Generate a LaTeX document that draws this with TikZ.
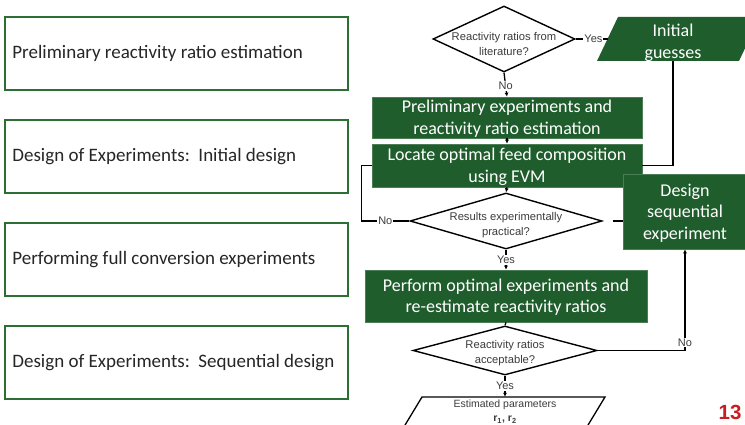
\documentclass[tikz,border=0pt]{standalone}
\usepackage{fontspec}
\setmainfont{Carlito}
\newfontfamily\arialfont{Liberation Sans}
\usetikzlibrary{shapes.geometric,arrows.meta}
\definecolor{boxgreen}{RGB}{31,94,44}
\definecolor{framegreen}{RGB}{45,110,52}
\definecolor{numred}{RGB}{200,30,35}
\definecolor{txtgray}{RGB}{38,38,38}
\definecolor{dgray}{RGB}{60,60,60}
\tikzset{
  stagebox/.style={draw=framegreen, line width=1.6pt, minimum width=343, minimum height=73,
    inner sep=0},
  stagetext/.style={anchor=west, inner sep=0, text=txtgray, font=\fontsize{19}{22}\selectfont},
  greenbox/.style={fill=boxgreen, draw=boxgreen!80!white, line width=0.6pt, inner sep=0,
    text depth=0pt, align=center, text=white, font=\fontsize{18}{21.5}\selectfont},
  decision/.style={diamond, draw=black, line width=1.4pt, fill=white, inner sep=0},
  dtext/.style={align=center, text=dgray, inner sep=0, font=\arialfont\fontsize{11.2}{15}\selectfont},
  lbl/.style={fill=white, inner sep=1, text=dgray, font=\arialfont\fontsize{11}{13}\selectfont},
  conn/.style={line width=1.3pt, draw=black},
  arr/.style={conn, -{Latex[length=4,width=4]}},
}
\begin{document}
\begin{tikzpicture}[x=1pt,y=-1pt]
  \clip (0,0) rectangle (745,425);
  \fill[white] (0,0) rectangle (745,425);

  % stages on the left
  \node[stagebox] (s1) at (176.5,53.5) {};
  \node[stagetext] (s1t) at ([xshift=8]s1.west) {Preliminary reactivity ratio estimation};
  \node[stagebox] (s2) at (176.5,156.5) {};
  \node[stagetext] (s2t) at ([xshift=8]s2.west) {Design of Experiments:\ \ Initial design};
  \node[stagebox] (s3) at (176.5,259.5) {};
  \node[stagetext] (s3t) at ([xshift=8]s3.west) {Performing full conversion experiments};
  \node[stagebox] (s4) at (176.5,362.5) {};
  \node[stagetext] (s4t) at ([xshift=8]s4.west) {Design of Experiments:\ \ Sequential design};

  % flowchart
  \node[decision, minimum width=142, minimum height=66] (d1) at (504,39) {};
  \node[dtext] at (504,44) {Reactivity ratios from\\literature?};

  \fill[boxgreen] (597,61) -- (618,17) -- (760,17) -- (739,61) -- cycle;
  \node[inner sep=0, minimum height=37, minimum width=90, align=center, text=white,
        font=\fontsize{18}{22}\selectfont] (ig) at (673,42.5) {Initial\\guesses};
  \coordinate (igL) at (608,39);

  \node[greenbox, minimum width=270, minimum height=41] (pre) at (507,117.5)
    {Preliminary experiments and\\reactivity ratio estimation};
  \node[greenbox, minimum width=270, minimum height=43] (loc) at (507,165.5)
    {Locate optimal feed composition\\using EVM};
  \node[greenbox, minimum width=124, minimum height=75] (dseq) at (685,211.5)
    {Design\\sequential\\experiment};

  \node[decision, minimum width=192, minimum height=56] (d2) at (506,221) {};
  \node[dtext] at (506,225) {Results experimentally\\practical?};

  \node[greenbox, minimum width=282, minimum height=52] (perf) at (506,296)
    {Perform optimal experiments and\\re-estimate reactivity ratios};

  \node[decision, minimum width=184, minimum height=49] (d3) at (505,350.5) {};
  \node[dtext] at (505,353) {Reactivity ratios\\acceptable?};

  \draw[line width=1.3pt, fill=white] (422,397) -- (605,397) -- (582,435) -- (399,435) -- cycle;
  \node[inner sep=0, minimum height=30, align=center, text=dgray,
        font=\arialfont\fontsize{10.5}{14}\selectfont] (est) at (505,412)
    {Estimated parameters\\\textbf{r\textsubscript{1}, r\textsubscript{2}}};

  % connectors
  \draw[arr] (d1.south) -- node[lbl, pos=0.55]{No} (pre.north);
  \draw[conn] (d1.east) -- node[lbl, pos=0.55]{Yes} (igL);
  \draw[conn] (ig.south) |- (loc.east);
  \draw[arr] (pre.south) -- (loc.north);
  \draw[arr] (loc.south) -- (d2.north);
  \draw[conn] (d2.west) -- node[lbl]{No} ++(-48,0) |- (loc.west);
  \draw[conn, shorten <=10] (d2.east) -- (d2.east -| dseq.west);
  \draw[arr] (d2.south) -- node[lbl, pos=0.5]{Yes} (perf.north);
  \draw[conn] (perf.south) -- (d3.north);
  \draw[arr] (d3.east) -- (d3.east -| dseq.south) -- node[lbl, pos=0.08]{No} (dseq.south);
  \draw[arr] (d3.south) -- node[lbl, pos=0.5]{Yes} (est.north);

  % slide number
  \node[text=numred, font=\arialfont\bfseries\fontsize{20.5}{24}\selectfont] (num) at (730,412) {13};
\end{tikzpicture}
\end{document}
